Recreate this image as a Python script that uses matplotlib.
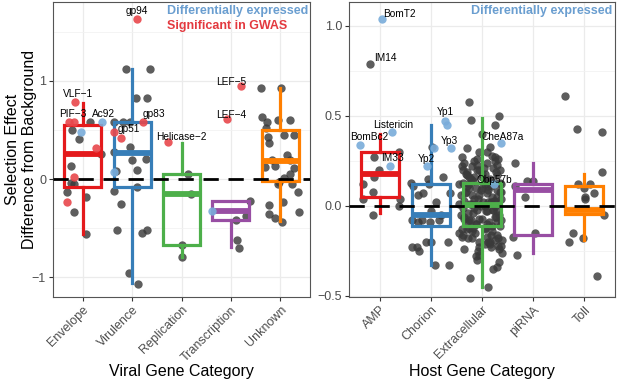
import numpy as np
import matplotlib
matplotlib.use("Agg")
import matplotlib.pyplot as plt

plt.rcParams["font.family"] = ["Liberation Sans", "DejaVu Sans"]

# ---- viral panel -------------------------------------------------------
viral_cats = ["Envelope", "Virulence", "Replication", "Transcription", "Unknown"]
viral_colors = ["#E41A1C", "#377EB8", "#4DAF4A", "#984EA3", "#FF7F00"]
# box stats: whislo, q1, med, q3, whishi
viral_whislo = [-0.56, -1.06, -0.80, -0.69, -0.43]
viral_q1 = [-0.08, -0.08, -0.67, -0.42, -0.02]
viral_med = [0.255, 0.27, -0.15, -0.33, 0.18]
viral_q3 = [0.55, 0.58, 0.05, -0.22, 0.50]
viral_whishi = [0.78, 1.12, 0.37, -0.22, 0.93]

# points: value, jitter offset, kind (0 other, 1 GWAS, 2 diff. expressed)
env_y = [0.79, 0.58, 0.58, 0.58, 0.58, 0.50, 0.48, 0.41, 0.32, 0.26, 0.13,
         0.02, -0.04, -0.05, -0.13, -0.23, -0.18, -0.34, -0.56]
env_dx = [-0.16, -0.28, -0.18, 0.14, 0.40, -0.22, -0.04, -0.08, 0.28, 0.38,
          -0.24, -0.18, -0.24, -0.18, -0.32, -0.32, 0.06, -0.18, 0.06]
env_k = [1, 1, 1, 0, 2, 0, 2, 0, 1, 0, 0, 1, 0, 0, 0, 1, 0, 0, 0]

vir_y = [1.63, 1.12, 1.12, 0.83, 0.83, 0.58, 0.58, 0.58, 0.58, 0.48, 0.42,
         0.33, 0.28, 0.19, 0.20, 0.08, 0.09, 0.07, -0.08, -0.12, -0.26,
         -0.52, -0.55, -0.52, -0.96, -1.07]
vir_dx = [0.10, -0.12, 0.36, 0.08, 0.30, -0.36, -0.18, -0.04, 0.22, -0.36,
          -0.22, -0.04, -0.36, 0.0, 0.28, -0.32, 0.10, -0.36, 0.10, -0.36,
          -0.22, -0.30, 0.20, 0.30, -0.06, 0.12]
vir_k = [1, 0, 0, 0, 0, 0, 0, 0, 1, 1, 1, 0, 0, 0, 0, 0, 0, 2, 0, 0, 0,
         0, 0, 0, 0, 0]

rep_y = [0.38, 0.05, -0.15, -0.67, -0.80]
rep_dx = [-0.28, 0.14, 0.20, 0.02, 0.0]
rep_k = [1, 0, 0, 0, 0]

tra_y = [0.95, 0.61, -0.22, -0.33, -0.38, -0.42, -0.62, -0.70]
tra_dx = [0.20, -0.08, 0.38, -0.38, 0.30, 0.10, 0.12, 0.16]
tra_k = [1, 1, 0, 2, 0, 0, 0, 0]

unk_y = [0.93, 0.93, 0.63, 0.58, 0.60, 0.60, 0.52, 0.43, 0.37, 0.45, 0.45,
         0.19, 0.24, 0.19, 0.12, 0.13, 0.05, 0.11, 0.01, -0.03, -0.05, -0.05,
         -0.13, -0.23, -0.27, -0.36, -0.40, -0.44, -0.34]
unk_dx = [-0.40, 0.02, -0.38, -0.28, -0.04, 0.20, -0.30, -0.24, -0.22, 0.08,
          0.28, -0.16, 0.14, 0.20, -0.32, -0.10, 0.20, 0.28, 0.08, -0.02,
          -0.04, 0.24, 0.36, 0.06, -0.22, -0.22, -0.10, 0.04, 0.38]
unk_k = [0] * len(unk_y)

viral_labels = ["gp94", "VLF\u22121", "PIF\u22123", "Ac92", "gp83", "gp51",
                "Helicase\u22122", "LEF\u22125", "LEF\u22124"]
viral_lab_x = [2.10, 0.90, 0.80, 1.42, 2.44, 1.94, 3.00, 4.00, 4.00]
viral_lab_y = [1.71, 0.87, 0.66, 0.66, 0.66, 0.51, 0.43, 0.99, 0.65]

# ---- host panel --------------------------------------------------------
host_cats = ["AMP", "Chorion", "Extracellular", "piRNA", "Toll"]
host_colors = viral_colors
host_whislo = [-0.04, -0.33, -0.45, -0.26, -0.19]
host_q1 = [0.05, -0.11, -0.11, -0.16, -0.045]
host_med = [0.18, -0.05, 0.005, 0.09, -0.02]
host_q3 = [0.30, 0.12, 0.13, 0.12, 0.11]
host_whishi = [0.40, 0.45, 0.49, 0.24, 0.18]

amp_y = [1.04, 0.79, 0.41, 0.34, 0.22, 0.27, 0.30, 0.20, 0.16, 0.12, 0.08,
         0.04, 0.04, -0.05, 0.00]
amp_dx = [0.04, -0.18, 0.25, -0.39, 0.20, -0.12, 0.37, -0.02, -0.12, -0.33,
          -0.14, -0.33, 0.39, -0.14, 0.37]
amp_k = [2, 0, 2, 2, 2, 0, 0, 0, 0, 0, 0, 0, 0, 0, 0]

cho_y = [0.47, 0.45, 0.32, 0.22, 0.33, 0.32, 0.13, 0.16, 0.06, 0.07, 0.11,
         0.12, 0.07, -0.08, -0.09, -0.08, -0.09, -0.08, -0.03, -0.05, -0.20,
         -0.20, -0.23, -0.23, -0.25, -0.33, -0.33, -0.20, 0.02, 0.15]
cho_dx = [0.27, 0.31, 0.39, -0.08, 0.02, 0.06, -0.39, 0.24, -0.25, -0.16,
          -0.35, -0.04, 0.37, -0.37, -0.25, -0.18, -0.02, 0.16, 0.0, 0.20,
          -0.10, 0.0, -0.37, -0.27, -0.24, 0.08, 0.35, 0.33, 0.10, -0.06]
cho_k = [2, 2, 2, 2, 0, 2] + [0] * 24

ext_y = [0.58, 0.48, 0.50, 0.45, 0.40, 0.35,
         0.32, 0.30, 0.28, 0.30, 0.27, 0.33, 0.25, 0.26,
         0.24, 0.22, 0.20, 0.18, 0.24, 0.21, 0.17, 0.20, 0.19, 0.16, 0.23,
         0.15, 0.22, 0.18, 0.16, 0.20,
         0.13, 0.12, 0.10, 0.14, 0.11, 0.09, 0.12, 0.08, 0.06, 0.07, 0.13,
         0.10, 0.05, 0.06, 0.12, 0.09, 0.11, 0.14, 0.08,
         0.03, 0.01, -0.02, 0.00, 0.02, -0.03, 0.04, -0.04, 0.02, -0.01,
         0.03, -0.03, 0.01, -0.02, 0.04, 0.00,
         -0.06, -0.08, -0.10, -0.07, -0.09, -0.06, -0.11, -0.13, -0.12,
         -0.14, -0.07, -0.12, -0.09, -0.05, -0.10, -0.13, -0.08,
         -0.16, -0.18, -0.20, -0.17, -0.19, -0.22, -0.24, -0.21, -0.23,
         -0.16, -0.18, -0.20, -0.15, -0.22,
         -0.28, -0.31, -0.35, -0.34, -0.40, -0.45, -0.27, -0.30, -0.26,
         # second batch of the dense core
         0.27, 0.23, 0.19, 0.15, 0.11, 0.07, 0.03, -0.01, -0.05, -0.09,
         -0.13, -0.17, -0.21, -0.25, 0.25, 0.21, 0.17, 0.13, 0.09, 0.05,
         0.01, -0.03, -0.07, -0.11, -0.15, -0.19, -0.23, 0.14, 0.06, -0.02,
         -0.10, -0.18, 0.18, 0.10, 0.02, -0.06, -0.14, 0.26, -0.20, 0.08,
         -0.04, -0.16, 0.20, 0.12, 0.00, -0.12, -0.24, 0.16, 0.04, -0.08]
ext_dx = [-0.25, -0.22, 0.33, 0.26, 0.00, 0.37,
          -0.30, 0.10, 0.20, -0.05, 0.25, 0.15, -0.15, 0.32,
          -0.35, -0.20, -0.10, 0.00, 0.10, 0.22, 0.30, 0.36, -0.30, -0.15,
          0.30, 0.15, -0.40, 0.05, -0.25, -0.05,
          -0.38, -0.25, -0.12, 0.05, 0.18, 0.30, 0.38, -0.32, -0.05, 0.10,
          0.25, 0.00, 0.20, -0.20, -0.45, 0.12, -0.30, -0.18, 0.35,
          -0.35, -0.20, -0.10, 0.05, 0.18, 0.30, 0.38, -0.28, 0.12, -0.38,
          0.25, 0.10, -0.45, 0.22, -0.15, -0.02,
          -0.36, -0.25, -0.12, 0.00, 0.14, 0.25, 0.35, -0.30, 0.05, 0.20,
          -0.05, -0.18, 0.30, -0.42, 0.10, -0.40, 0.38,
          -0.38, -0.20, -0.05, 0.10, 0.25, 0.32, -0.35, 0.05, 0.18, 0.30,
          -0.28, 0.15, -0.45, 0.38, -0.12,
          0.33, 0.22, 0.30, -0.23, 0.12, -0.05, -0.10, 0.40, -0.40,
          -0.10, 0.28, -0.22, 0.12, -0.34, 0.24, -0.16, 0.34, -0.28, 0.06,
          -0.40, 0.16, -0.08, 0.26, 0.04, -0.30, 0.36, -0.02, 0.30, -0.24,
          0.08, -0.36, 0.20, -0.14, 0.40, -0.06, 0.14, -0.42, 0.22, -0.12,
          0.32, -0.32, -0.26, 0.02, 0.28, -0.20, -0.10, 0.12, 0.38, -0.18,
          0.18, -0.38, 0.06, 0.26, -0.26, 0.34, 0.00, -0.08, -0.22, 0.24]
ext_k = [0] * len(ext_y)
ext_k[5] = 2
ext_y.append(0.12)
ext_dx.append(0.30)
ext_k.append(2)

pir_y = [0.24, 0.14, 0.11, 0.14, 0.05, -0.17, -0.15, -0.27]
pir_dx = [-0.35, -0.12, -0.35, 0.00, -0.16, -0.39, 0.04, -0.31]
pir_k = [0] * len(pir_y)

tol_y = [0.61, 0.43, 0.41, 0.19, 0.07, 0.05, 0.12, 0.12, 0.04, -0.05,
         -0.15, -0.20, -0.18, -0.39, 0.10]
tol_dx = [-0.37, -0.14, 0.35, 0.35, 0.18, 0.02, -0.12, 0.12, 0.02, 0.39,
          -0.22, -0.29, -0.02, 0.25, 0.00]
tol_k = [0] * len(tol_y)

host_labels = ["BomT2", "IM14", "Listericin", "BomBc2", "IM33", "Yp2",
               "Yp1", "Yp3", "CheA87a", "Obp57b"]
host_lab_x = [1.39, 1.12, 1.27, 0.80, 1.26, 1.92, 2.29, 2.37, 3.41, 3.25]
host_lab_y = [1.067, 0.82, 0.45, 0.385, 0.265, 0.26, 0.52, 0.36, 0.385, 0.145]

GRAY_PT = "#3A3A3A"
KIND_COL = {1: "#E8474B", 2: "#79ACDA"}


def draw_panel(ax, cats, colors, stats, groups, ylim, yticks, yticklabels, minor):
    ax.set_xlim(0.4, len(cats) + 0.6)
    ax.set_ylim(*ylim)
    ax.set_yticks(yticks)
    ax.set_yticklabels(yticklabels)
    ax.set_yticks(minor, minor=True)
    ax.set_xticks(np.arange(1, len(cats) + 1))
    ax.set_xticklabels(cats, rotation=45, ha="right", va="top",
                       rotation_mode="anchor")
    ax.tick_params(which="minor", length=0)
    ax.tick_params(which="major", length=3, color="#333333", labelsize=9,
                   labelcolor="#4D4D4D", pad=2)
    ax.grid(which="major", color="#EBEBEB", lw=0.9, zorder=0)
    ax.grid(which="minor", axis="y", color="#F2F2F2", lw=0.6, zorder=0)
    ax.set_axisbelow(True)
    for s in ax.spines.values():
        s.set_color("#555555")
        s.set_linewidth(0.8)

    # other genes first
    for i, (ys, dxs, ks) in enumerate(groups):
        xs = [i + 1 + d for d, k in zip(dxs, ks) if k == 0]
        yy = [y for y, k in zip(ys, ks) if k == 0]
        ax.scatter(xs, yy, s=36, color=GRAY_PT, alpha=0.82, lw=0, zorder=2)

    whislo, q1, med, q3, whishi = stats
    bxs = [dict(whislo=a, q1=b, med=c, q3=d, whishi=e, fliers=[])
           for a, b, c, d, e in zip(whislo, q1, med, q3, whishi)]
    for i, b in enumerate(bxs):
        c = colors[i]
        ax.bxp([b], positions=[i + 1], widths=0.75, showfliers=False,
               showcaps=False, patch_artist=True,
               boxprops=dict(facecolor="none", edgecolor=c, lw=2.3),
               whiskerprops=dict(color=c, lw=2.3),
               medianprops=dict(color=c, lw=4.2, solid_capstyle="butt"),
               manage_ticks=False, zorder=3)

    for i, (ys, dxs, ks) in enumerate(groups):
        for y, d, k in zip(ys, dxs, ks):
            if k:
                ax.scatter([i + 1 + d], [y], s=36, color=KIND_COL[k],
                           alpha=0.9, lw=0, zorder=4)

    ax.axhline(0, color="black", lw=2.0, ls=(0, (5.5, 3.5)), zorder=5)


fig = plt.figure(figsize=(6.17, 3.83), dpi=100)
ax1 = fig.add_axes([53 / 617, 86 / 383, 257 / 617, 295 / 383])
ax2 = fig.add_axes([349 / 617, 86 / 383, 266 / 617, 295 / 383])

draw_panel(ax1, viral_cats, viral_colors,
           (viral_whislo, viral_q1, viral_med, viral_q3, viral_whishi),
           [(env_y, env_dx, env_k), (vir_y, vir_dx, vir_k),
            (rep_y, rep_dx, rep_k), (tra_y, tra_dx, tra_k),
            (unk_y, unk_dx, unk_k)],
           (-1.204, 1.806), [-1, 0, 1], ["\u22121", "0", "1"],
           [-0.5, 0.5, 1.5])
draw_panel(ax2, host_cats, host_colors,
           (host_whislo, host_q1, host_med, host_q3, host_whishi),
           [(amp_y, amp_dx, amp_k), (cho_y, cho_dx, cho_k),
            (ext_y, ext_dx, ext_k), (pir_y, pir_dx, pir_k),
            (tol_y, tol_dx, tol_k)],
           (-0.506, 1.133), [-0.5, 0.0, 0.5, 1.0],
           ["\u22120.5", "0.0", "0.5", "1.0"], [-0.25, 0.25, 0.75])

for t, x, y in zip(viral_labels, viral_lab_x, viral_lab_y):
    ax1.text(x, y, t, fontsize=7.3, ha="center", va="center", zorder=6)
for t, x, y in zip(host_labels, host_lab_x, host_lab_y):
    ax2.text(x, y, t, fontsize=7.3, ha="center", va="center", zorder=6)

ax1.text(2.7, 1.71, "Differentially expressed", color="#6A9ED0",
         fontsize=9, fontweight="bold", va="center", ha="left")
ax1.text(2.7, 1.56, "Significant in GWAS", color="#E3393F",
         fontsize=9, fontweight="bold", va="center", ha="left")
ax2.text(2.78, 1.083, "Differentially expressed", color="#6A9ED0",
         fontsize=9, fontweight="bold", va="center", ha="left")

fig.text(181.5 / 617, 7 / 383, "Viral Gene Category", fontsize=11.5,
         ha="center", va="baseline")
fig.text(482 / 617, 7 / 383, "Host Gene Category", fontsize=11.5,
         ha="center", va="baseline")
fig.text(21 / 617, 1 - 149.5 / 383, "Selection Effect\nDifference from Background",
         fontsize=11.5, rotation=90, ha="center", va="center",
         multialignment="center", linespacing=1.1)

fig.savefig("out.png", dpi=100)
